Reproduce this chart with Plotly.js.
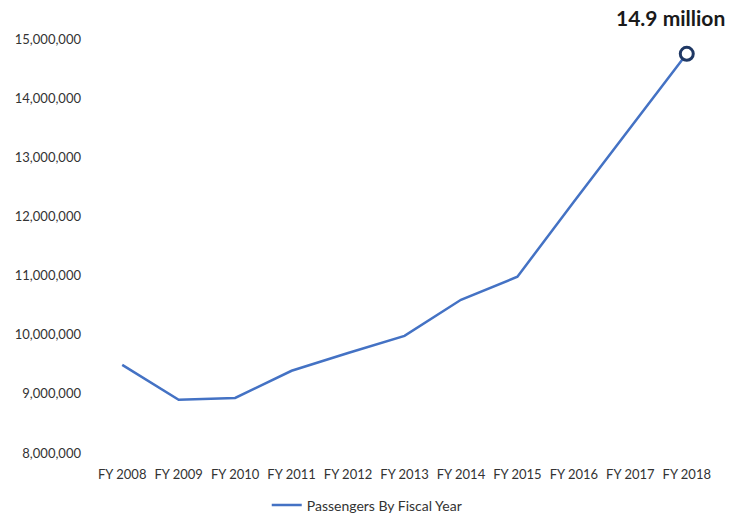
<!DOCTYPE html>
<html>
<head>
<meta charset="utf-8">
<script src="https://cdn.plot.ly/plotly-3.0.1.min.js"></script>
<style>html,body{margin:0;padding:0;background:#fff;}#chart{width:736px;height:518px;}</style>
</head>
<body>
<div id="chart"></div>
<script>
const years = ["FY 2008","FY 2009","FY 2010","FY 2011","FY 2012","FY 2013","FY 2014","FY 2015","FY 2016","FY 2017","FY 2018"];
const passengers = [9490000, 8900000, 8930000, 9390000, 9690000, 9980000, 10590000, 10980000, 12250000, 13490000, 14750000];
const yTicks = [8000000, 9000000, 10000000, 11000000, 12000000, 13000000, 14000000, 15000000];
const seriesName = "Passengers By Fiscal Year";
const highlightLabel = "14.9 million";

const last = years.length - 1;
const font = "Lato, 'Open Sans', sans-serif";

const traces = [
  {
    x: years, y: passengers, type: "scatter", mode: "lines", name: seriesName,
    line: {color: "#4472C4", width: 2.5}
  },
  {
    x: [years[last]], y: [passengers[last]], type: "scatter", mode: "markers",
    showlegend: false, hoverinfo: "skip",
    marker: {symbol: "circle", size: 13, color: "#ffffff", line: {color: "#1F3864", width: 3}}
  }
];

const layout = {
  width: 736, height: 518,
  margin: {l: 94, r: 21, t: 39, b: 65, autoexpand: false},
  paper_bgcolor: "#fff", plot_bgcolor: "#fff",
  font: {family: font, size: 13, color: "#333333"},
  showlegend: true,
  legend: {orientation: "h", x: 0.44, xanchor: "center", y: -0.088, yanchor: "top",
           font: {family: font, size: 14, color: "#333333"}},
  xaxis: {type: "category", range: [-0.5, 10.5], showgrid: false, zeroline: false,
          showline: false, ticks: "", tickfont: {family: font, size: 13, color: "#333333"},
          ticklabelstandoff: 12, automargin: false},
  yaxis: {range: [8000000, 15000000], tickvals: yTicks, tickformat: ",d",
          showgrid: false, zeroline: false, showline: false, ticks: "",
          tickfont: {family: font, size: 13, color: "#333333"}, ticklabelstandoff: 12, automargin: false},
  annotations: [{
    x: years[last], y: passengers[last], xref: "x", yref: "y",
    text: "<b>" + highlightLabel + "</b>", showarrow: false,
    yshift: 36, xshift: -16,
    font: {family: font, size: 21, color: "#1a1a1a"}
  }]
};

Plotly.newPlot("chart", traces, layout, {displayModeBar: false, staticPlot: true});
</script>
</body>
</html>
